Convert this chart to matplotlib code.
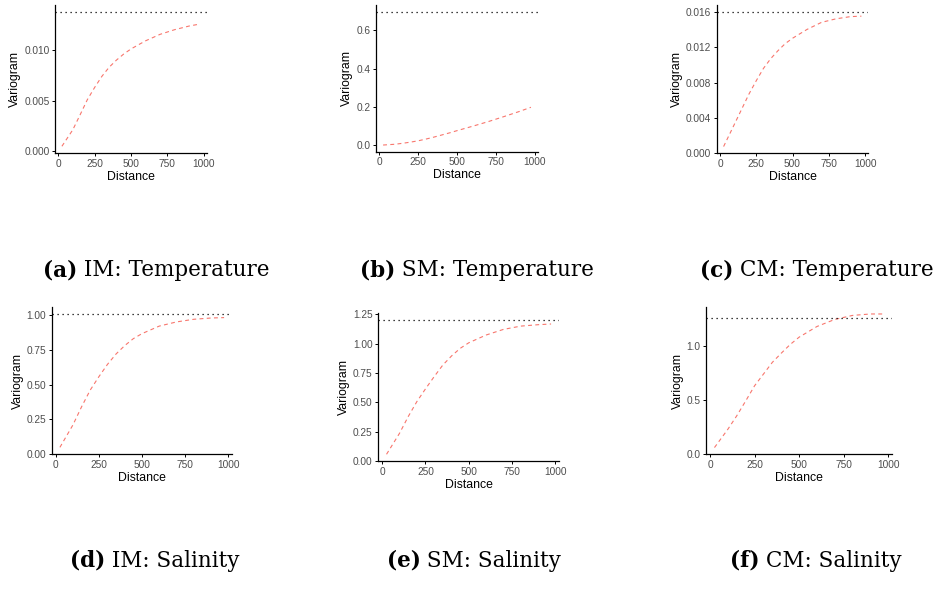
import matplotlib
matplotlib.use("Agg")
import matplotlib.pyplot as plt

# distances at which the fitted variograms are read
distance = [25, 100, 150, 200, 250, 300, 350, 400, 450, 500, 600, 700, 800, 900, 975]

# fitted variogram values per model / variable
im_temp = [0.0005, 0.00213, 0.0036, 0.0051, 0.0063, 0.0074, 0.0083, 0.0090, 0.0096,
           0.0101, 0.0109, 0.01154, 0.0120, 0.01236, 0.01256]
sm_temp = [0.001, 0.005, 0.010, 0.016, 0.023, 0.032, 0.042, 0.053, 0.064,
           0.076, 0.099, 0.123, 0.149, 0.176, 0.198]
cm_temp = [0.00076, 0.0033, 0.0050, 0.0067, 0.0082, 0.0096, 0.0107, 0.0116, 0.0124,
           0.0130, 0.0140, 0.0148, 0.0152, 0.01545, 0.0155]
im_sal = [0.05, 0.21, 0.34, 0.46, 0.556, 0.645, 0.72, 0.78, 0.83,
          0.866, 0.92, 0.95, 0.969, 0.978, 0.981]
sm_sal = [0.057, 0.236, 0.378, 0.506, 0.615, 0.719, 0.818, 0.895, 0.96,
          1.008, 1.074, 1.122, 1.15, 1.162, 1.168]
cm_sal = [0.062, 0.23, 0.354, 0.49, 0.63, 0.738, 0.846, 0.93, 1.01,
          1.077, 1.175, 1.24, 1.277, 1.29, 1.29]

# sample variance (sill) per panel
sills = [0.01377, 0.697, 0.0160, 1.007, 1.202, 1.252]

x_ticks = [0, 250, 500, 750, 1000]
y_ticks = [
    [0, 0.005, 0.010],
    [0, 0.2, 0.4, 0.6],
    [0, 0.004, 0.008, 0.012, 0.016],
    [0, 0.25, 0.5, 0.75, 1.0],
    [0, 0.25, 0.5, 0.75, 1.0, 1.25],
    [0, 0.5, 1.0],
]
y_labels = [
    ["0.000", "0.005", "0.010"],
    ["0.0", "0.2", "0.4", "0.6"],
    ["0.000", "0.004", "0.008", "0.012", "0.016"],
    ["0.00", "0.25", "0.50", "0.75", "1.00"],
    ["0.00", "0.25", "0.50", "0.75", "1.00", "1.25"],
    ["0.0", "0.5", "1.0"],
]
tags = ["(a)", "(b)", "(c)", "(d)", "(e)", "(f)"]
captions = ["IM: Temperature", "SM: Temperature", "CM: Temperature",
            "IM: Salinity", "SM: Salinity", "CM: Salinity"]
series = [im_temp, sm_temp, cm_temp, im_sal, sm_sal, cm_sal]

W, H = 936, 592
# panel boxes in pixels: left, right, top, bottom
boxes = [
    (55, 207, 5, 153),
    (375.7, 538.3, 5, 151.7),
    (716.7, 868.3, 5, 153.3),
    (51.7, 232.3, 307.3, 454.3),
    (378.3, 559.3, 313.3, 461),
    (706, 892.3, 307.3, 454.3),
]
cap_x = [156, 477, 817, 155, 474, 816]
cap_base = [276, 276, 276, 567, 567, 567]

fig = plt.figure(figsize=(W / 100, H / 100), dpi=100)
sans = "Liberation Sans"


def expand(lo, hi, f=0.05):
    span = hi - lo
    return lo - f * span, hi + f * span


for i in range(6):
    l, r, t, b = boxes[i]
    ax = fig.add_axes([l / W, 1 - b / H, (r - l) / W, (b - t) / H])
    vals = series[i]
    ax.plot(distance, vals, color="#F8766D", lw=0.8, ls=(0, (3.5, 3)))
    ax.axhline(sills[i], color="black", lw=0.9, ls=(0, (1, 3)))

    ax.set_xlim(*expand(min(distance), max(distance)))
    ax.set_ylim(*expand(min(min(vals), sills[i]), max(max(vals), sills[i])))

    ax.set_xticks(x_ticks)
    ax.set_xticklabels([str(v) for v in x_ticks])
    ax.set_yticks(y_ticks[i])
    ax.set_yticklabels(y_labels[i])
    ax.tick_params(length=2, width=0.7, pad=2, labelsize=7.3,
                   labelcolor="#4D4D4D", color="black")
    for lab in ax.get_xticklabels() + ax.get_yticklabels():
        lab.set_fontfamily(sans)

    for side in ["top", "right"]:
        ax.spines[side].set_visible(False)
    for side in ["left", "bottom"]:
        ax.spines[side].set_linewidth(0.9)

    ax.set_xlabel("Distance", fontsize=8.8, family=sans, labelpad=1.5)
    ax.set_ylabel("Variogram", fontsize=8.8, family=sans, labelpad=2)

# sub-captions: bold tag followed by regular text, centred under each column
fig.canvas.draw()
renderer = fig.canvas.get_renderer()
for i in range(6):
    y = 1 - cap_base[i] / H
    t1 = fig.text(0, y, tags[i], fontsize=15.5, family="DejaVu Serif",
                  fontweight="bold", va="baseline", ha="left")
    t2 = fig.text(0, y, " " + captions[i], fontsize=15.5, family="DejaVu Serif",
                  va="baseline", ha="left")
    w1 = t1.get_window_extent(renderer).width
    w2 = t2.get_window_extent(renderer).width
    x0 = cap_x[i] - (w1 + w2) / 2
    t1.set_x(x0 / W)
    t2.set_x((x0 + w1) / W)

fig.savefig("out.png", dpi=100)
